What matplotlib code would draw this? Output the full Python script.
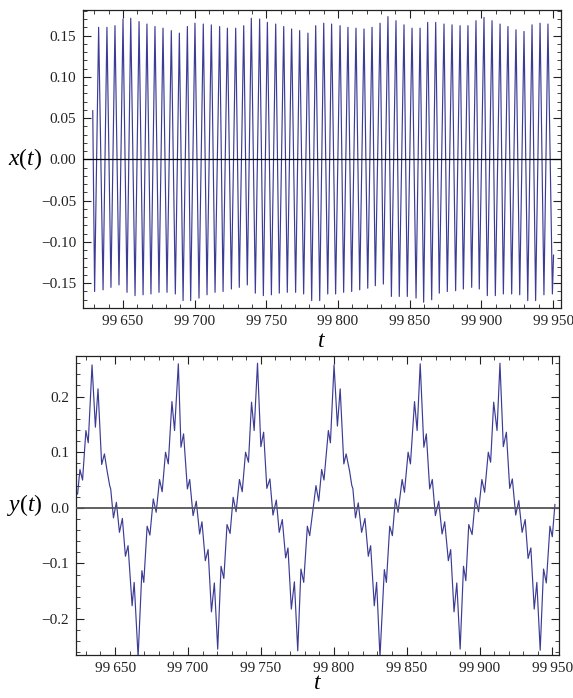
import numpy as np
import matplotlib
matplotlib.use('Agg')
import matplotlib.pyplot as plt
from matplotlib.ticker import MultipleLocator, FuncFormatter

plt.rcParams['font.family'] = ['Liberation Serif', 'DejaVu Serif']
plt.rcParams['mathtext.fontset'] = 'custom'
plt.rcParams['mathtext.rm'] = 'Liberation Serif'
plt.rcParams['mathtext.it'] = 'Liberation Serif:italic'

# x(t): read-off extrema of the fast oscillation (top panel)
x_start = (99628.9, 0.059)
x_end = (99950.3, -0.116)
x_peak_t = [99633.0, 99638.8, 99644.4, 99650.0, 99655.4, 99661.2, 99666.7, 99672.3,
            99677.9, 99683.7, 99689.3, 99694.9, 99700.2, 99706.0, 99711.6, 99717.4,
            99722.8, 99728.6, 99734.2, 99739.5, 99745.3, 99750.7, 99756.5, 99762.1,
            99767.6, 99773.2, 99779.0, 99784.4, 99790.0, 99795.5, 99801.4, 99806.9,
            99812.5, 99818.1, 99823.7, 99829.3, 99834.8, 99840.4, 99846.0, 99851.6,
            99857.2, 99862.5, 99868.1, 99873.9, 99879.5, 99885.1, 99890.6, 99896.2,
            99901.8, 99907.4, 99913.0, 99918.5, 99924.1, 99929.7, 99935.3, 99940.9,
            99946.4]
x_peak_v = [0.160, 0.160, 0.162, 0.170, 0.171, 0.167, 0.164, 0.161, 0.159, 0.156,
            0.153, 0.161, 0.165, 0.164, 0.163, 0.161, 0.159, 0.159, 0.162, 0.171,
            0.170, 0.166, 0.164, 0.161, 0.158, 0.156, 0.153, 0.162, 0.165, 0.164,
            0.162, 0.160, 0.159, 0.158, 0.160, 0.165, 0.173, 0.168, 0.163, 0.159,
            0.159, 0.166, 0.166, 0.164, 0.163, 0.162, 0.162, 0.168, 0.172, 0.168,
            0.164, 0.161, 0.157, 0.155, 0.163, 0.165, 0.164]
x_trough_t = [99630.2, 99636.1, 99641.6, 99647.2, 99652.8, 99658.4, 99664.0, 99669.5,
              99675.1, 99680.7, 99686.5, 99691.9, 99697.2, 99703.0, 99708.6, 99714.2,
              99719.8, 99725.6, 99731.1, 99736.7, 99742.3, 99747.9, 99753.5, 99759.0,
              99764.6, 99770.4, 99776.0, 99781.6, 99787.2, 99792.8, 99798.3, 99803.9,
              99809.5, 99815.1, 99820.7, 99826.0, 99831.6, 99837.2, 99842.7, 99848.3,
              99854.4, 99859.7, 99865.3, 99870.6, 99876.2, 99882.0, 99887.4, 99893.2,
              99898.5, 99904.1, 99909.7, 99915.3, 99921.1, 99926.7, 99932.3, 99937.8,
              99943.6, 99949.5]
x_trough_v = [-0.160, -0.158, -0.155, -0.152, -0.161, -0.165, -0.164, -0.163, -0.161,
              -0.161, -0.163, -0.171, -0.171, -0.168, -0.164, -0.161, -0.160, -0.157,
              -0.155, -0.152, -0.162, -0.165, -0.164, -0.162, -0.161, -0.161, -0.163,
              -0.171, -0.171, -0.163, -0.163, -0.161, -0.160, -0.158, -0.156, -0.153,
              -0.151, -0.166, -0.166, -0.166, -0.168, -0.173, -0.170, -0.162, -0.160,
              -0.159, -0.157, -0.155, -0.157, -0.165, -0.165, -0.163, -0.163, -0.164,
              -0.171, -0.171, -0.164, -0.163]

# y(t): read-off turning points of the slow wave (bottom panel)
y_t = [99624.3, 99625.9, 99627.7, 99630.0, 99631.6, 99634.2, 99636.5, 99638.3, 99640.8,
       99642.7, 99644.5, 99646.3, 99647.0, 99648.9, 99650.9, 99653.0, 99655.0, 99657.1,
       99658.9, 99661.7, 99663.1, 99665.8, 99668.4, 99669.7, 99672.0, 99673.9, 99676.2,
       99678.2, 99680.5, 99682.3, 99684.6, 99686.5, 99689.0, 99690.8, 99693.4, 99695.2,
       99697.0, 99699.6, 99701.2, 99703.5, 99705.7, 99708.0, 99709.6, 99711.9, 99713.8,
       99716.1, 99718.1, 99720.4, 99722.7, 99724.6, 99726.8, 99728.9, 99731.0, 99733.0,
       99735.3, 99737.2, 99739.5, 99741.5, 99743.6, 99745.4, 99747.7, 99750.0, 99751.9,
       99754.1, 99756.2, 99758.3, 99760.6, 99762.6, 99764.7, 99767.0, 99768.6, 99770.9,
       99773.0, 99775.3, 99777.5, 99779.4, 99781.9, 99783.5, 99787.8, 99789.7, 99791.7,
       99793.3, 99796.3, 99797.7, 99800.2, 99802.5, 99804.4, 99806.9, 99808.5, 99810.8,
       99812.4, 99813.1, 99814.9, 99816.8, 99819.1, 99821.4, 99823.7, 99825.3, 99827.8,
       99829.4, 99831.7, 99834.7, 99836.1, 99838.4, 99840.2, 99842.3, 99844.1, 99846.9,
       99848.5, 99851.0, 99852.6, 99855.4, 99857.2, 99859.3, 99861.8, 99863.5, 99865.8,
       99867.6, 99869.7, 99872.0, 99874.3, 99876.1, 99878.6, 99880.2, 99882.5, 99884.4,
       99886.7, 99889.0, 99890.6, 99892.6, 99894.9, 99897.2, 99899.3, 99901.6, 99903.5,
       99906.0, 99907.6, 99909.7, 99912.0, 99914.0, 99916.3, 99918.4, 99920.7, 99922.5,
       99924.8, 99926.9, 99929.2, 99931.3, 99933.3, 99935.2, 99937.5, 99939.3, 99941.6,
       99943.9, 99945.8, 99948.3, 99949.9, 99951.7]
y_v = [0.025, 0.069, 0.050, 0.139, 0.117, 0.257, 0.145, 0.214, 0.078,
       0.097, 0.067, 0.040, 0.034, -0.018, 0.010, -0.044, -0.019, -0.087,
       -0.068, -0.176, -0.134, -0.268, -0.113, -0.134, -0.033, -0.049, 0.016,
       -0.008, 0.051, 0.029, 0.100, 0.079, 0.191, 0.139, 0.259, 0.109,
       0.133, 0.034, 0.051, -0.014, 0.012, -0.047, -0.025, -0.095, -0.075,
       -0.187, -0.135, -0.254, -0.105, -0.127, -0.030, -0.046, 0.019, -0.007,
       0.051, 0.029, 0.100, 0.082, 0.190, 0.139, 0.260, 0.110, 0.136,
       0.035, 0.052, -0.013, 0.014, -0.044, -0.021, -0.090, -0.072, -0.182,
       -0.133, -0.257, -0.110, -0.134, -0.033, -0.050, 0.040, 0.012, 0.069,
       0.050, 0.139, 0.117, 0.257, 0.147, 0.214, 0.079, 0.097, 0.067,
       0.040, 0.035, -0.018, 0.009, -0.044, -0.019, -0.087, -0.068, -0.176,
       -0.134, -0.268, -0.111, -0.134, -0.033, -0.050, 0.016, -0.008, 0.051,
       0.028, 0.100, 0.079, 0.191, 0.139, 0.259, 0.109, 0.133, 0.034,
       0.051, -0.014, 0.012, -0.047, -0.025, -0.095, -0.075, -0.187, -0.135,
       -0.254, -0.105, -0.131, -0.030, -0.048, 0.018, -0.007, 0.051, 0.028,
       0.100, 0.082, 0.190, 0.139, 0.260, 0.110, 0.136, 0.035, 0.052,
       -0.013, 0.013, -0.044, -0.021, -0.091, -0.072, -0.182, -0.134, -0.256,
       -0.110, -0.135, -0.033, -0.052, 0.006]

# put the x(t) turning points in order: start, T, P, T, ..., P, T, end
xt = [x_start[0]]
xv = [x_start[1]]
for i in range(len(x_trough_t)):
    xt.append(x_trough_t[i])
    xv.append(x_trough_v[i])
    if i < len(x_peak_t):
        xt.append(x_peak_t[i])
        xv.append(x_peak_v[i])
xt.append(x_end[0])
xv.append(x_end[1])

line_col = '#3c3c96'


def t_fmt(v, pos):
    s = '%d' % round(v)
    return s[:2] + '\u2009' + s[2:]


def signed(fmt):
    def f(v, pos):
        s = fmt % v
        if s.startswith('-'):
            s = '\u2212' + s[1:]
        if s.lstrip('\u2212') == fmt % 0:
            s = fmt % 0
        return s
    return f


def style(ax):
    for sp in ax.spines.values():
        sp.set_linewidth(0.9)
        sp.set_color('#222222')
    ax.tick_params(which='both', direction='in', top=True, right=True,
                   labelsize=11, colors='#222222', pad=5)
    ax.tick_params(which='major', length=6, width=0.8)
    ax.tick_params(which='minor', length=3, width=0.6)
    ax.xaxis.set_major_locator(MultipleLocator(50))
    ax.xaxis.set_minor_locator(MultipleLocator(10))
    ax.xaxis.set_major_formatter(FuncFormatter(t_fmt))


fig = plt.figure(figsize=(5.73, 6.98), dpi=100)

ax1 = fig.add_axes([83 / 573, 1 - 308 / 698, 478 / 573, 298 / 698])
ax1.plot(xt, xv, color=line_col, lw=0.85)
ax1.axhline(0, color='black', lw=0.9, zorder=3)
ax1.set_xlim(99622.1, 99955.5)
ax1.set_ylim(-0.180, 0.181)
style(ax1)
ax1.yaxis.set_major_locator(MultipleLocator(0.05))
ax1.yaxis.set_minor_locator(MultipleLocator(0.01))
ax1.yaxis.set_major_formatter(FuncFormatter(signed('%.2f')))
ax1.set_xlabel(r'$t$', fontsize=17, labelpad=2)
ax1.set_ylabel(r'$x(t)$', fontsize=17, rotation=0, ha='center', va='center')
ax1.yaxis.set_label_coords(-58 / 478, 0.5)

ax2 = fig.add_axes([76 / 573, 1 - 654.7 / 698, 483 / 573, 298.7 / 698])
ax2.plot(y_t, y_v, color=line_col, lw=0.85)
ax2.axhline(0, color='#555555', lw=1.3, zorder=3)
ax2.set_xlim(99623.2, 99954.5)
ax2.set_ylim(-0.264, 0.273)
style(ax2)
ax2.yaxis.set_major_locator(MultipleLocator(0.1))
ax2.yaxis.set_minor_locator(MultipleLocator(0.02))
ax2.yaxis.set_major_formatter(FuncFormatter(signed('%.1f')))
ax2.set_xlabel(r'$t$', fontsize=17, labelpad=-1)
ax2.set_ylabel(r'$y(t)$', fontsize=17, rotation=0, ha='center', va='center')
ax2.yaxis.set_label_coords(-51 / 483, 0.5)

fig.savefig('out.png', dpi=100)
